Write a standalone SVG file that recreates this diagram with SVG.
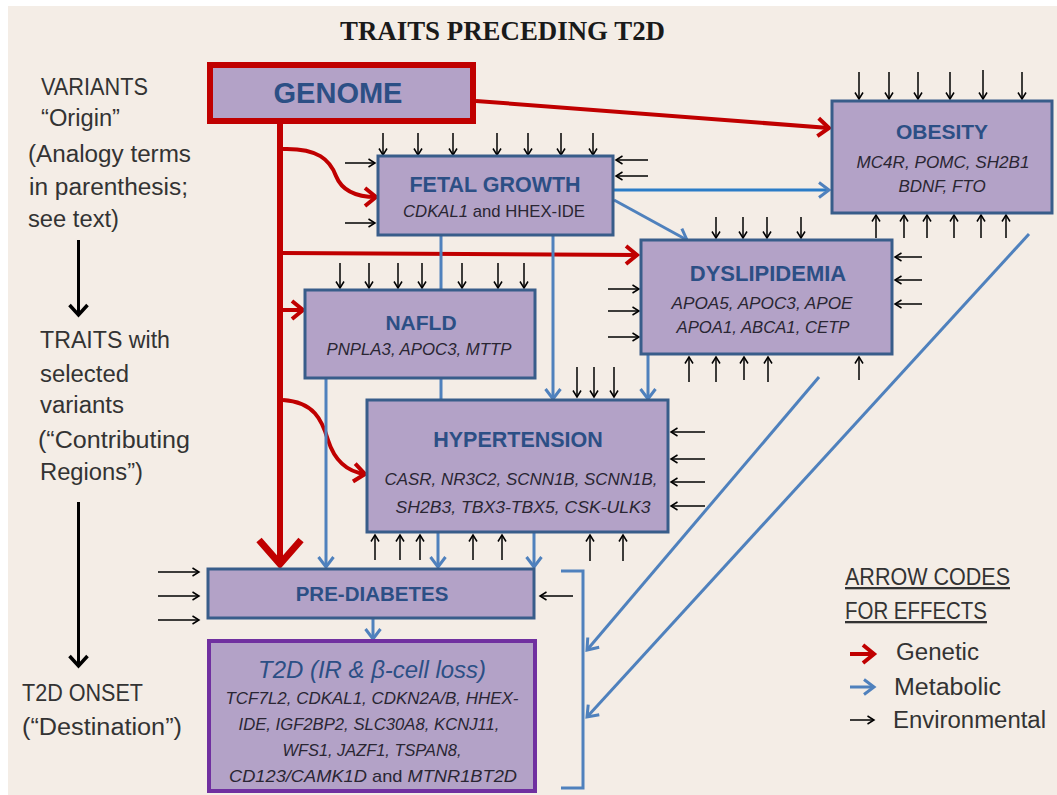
<svg xmlns="http://www.w3.org/2000/svg" width="1057" height="795" viewBox="0 0 1057 795">
<style>
.box{fill:#b3a2c7;stroke:#385d8a;stroke-width:3}
.ttl{font-family:'Liberation Sans',Arial,sans-serif;font-weight:bold;fill:#2c4f85;text-anchor:middle}
.gene{font-family:'Liberation Sans',Arial,sans-serif;font-style:italic;fill:#2a2633;text-anchor:middle;font-size:17px}
.up{font-style:normal}
.lbl{font-family:'Liberation Sans',Arial,sans-serif;fill:#333333;font-size:23px}
.env{stroke:#000;stroke-width:1.5;fill:none;marker-end:url(#mEnv)}
.red{stroke:#c00000;stroke-width:4;fill:none;marker-end:url(#mRed)}
.blue{stroke:#4f81bd;stroke-width:3;fill:none;marker-end:url(#mBlue)}
.bline{stroke:#4f81bd;stroke-width:3;fill:none}
.blk{stroke:#000;stroke-width:3;fill:none;marker-end:url(#mBlk)}
</style>
<defs>
<marker id="mEnv" markerUnits="userSpaceOnUse" markerWidth="10" markerHeight="10" refX="7" refY="4.5" orient="auto" overflow="visible"><path d="M0.5,0.5 L7,4.5 L0.5,8.5" fill="none" stroke="#000" stroke-width="1.5"/></marker>
<marker id="mRed" markerUnits="userSpaceOnUse" markerWidth="20" markerHeight="24" refX="13" refY="10" orient="auto" overflow="visible"><path d="M2,1 L13,10 L2,19" fill="none" stroke="#c00000" stroke-width="4"/></marker>
<marker id="mBlue" markerUnits="userSpaceOnUse" markerWidth="16" markerHeight="20" refX="11" refY="8" orient="auto" overflow="visible"><path d="M1,0.5 L11,8 L1,15.5" fill="none" stroke="#4f81bd" stroke-width="3"/></marker>
<marker id="mBlk" markerUnits="userSpaceOnUse" markerWidth="20" markerHeight="20" refX="10" refY="10" orient="auto" overflow="visible"><path d="M0,1 L10,10 L0,19" fill="none" stroke="#000" stroke-width="3.5"/></marker>
</defs>
<rect x="0" y="0" width="1057" height="795" fill="#ffffff"/>
<rect x="8" y="6" width="1049" height="789" fill="#f4ede6"/>

<text x="340" y="40" font-family="'Liberation Serif','Times New Roman',serif" font-weight="bold" font-size="27" fill="#1a1a1a" textLength="325" lengthAdjust="spacingAndGlyphs">TRAITS PRECEDING T2D</text>

<g id="left-labels">
<text class="lbl" x="41" y="95" textLength="107" lengthAdjust="spacingAndGlyphs">VARIANTS</text>
<text class="lbl" x="41" y="126" textLength="79" lengthAdjust="spacingAndGlyphs">“Origin”</text>
<text class="lbl" x="28" y="162" textLength="163" lengthAdjust="spacingAndGlyphs">(Analogy terms</text>
<text class="lbl" x="29" y="195" textLength="159" lengthAdjust="spacingAndGlyphs">in parenthesis;</text>
<text class="lbl" x="28" y="227" textLength="91" lengthAdjust="spacingAndGlyphs">see text)</text>
<text class="lbl" x="40" y="348" textLength="130" lengthAdjust="spacingAndGlyphs">TRAITS with</text>
<text class="lbl" x="40" y="382" textLength="89" lengthAdjust="spacingAndGlyphs">selected</text>
<text class="lbl" x="40" y="413" textLength="84" lengthAdjust="spacingAndGlyphs">variants</text>
<text class="lbl" x="38" y="448" textLength="152" lengthAdjust="spacingAndGlyphs">(“Contributing</text>
<text class="lbl" x="40" y="480" textLength="103" lengthAdjust="spacingAndGlyphs">Regions”)</text>
<text class="lbl" x="22" y="701" textLength="121" lengthAdjust="spacingAndGlyphs">T2D ONSET</text>
<text class="lbl" x="22" y="735" textLength="160" lengthAdjust="spacingAndGlyphs">(“Destination”)</text>
<line class="blk" x1="78.5" y1="240" x2="78.5" y2="315"/>
<line class="blk" x1="78.5" y1="502" x2="78.5" y2="666"/>
</g>

<g id="connectors">
<!-- genetic (red) -->
<line x1="280" y1="124" x2="280" y2="562" stroke="#c00000" stroke-width="6"/>
<path d="M259,540 L280,564 L301,540" fill="none" stroke="#c00000" stroke-width="7" stroke-linejoin="miter"/>
<line class="red" x1="476" y1="101" x2="829" y2="128"/>
<path class="red" d="M283,149 C318,148 330,160 336,176 C342,191 356,197 376,197"/>
<line class="red" x1="283" y1="253" x2="637" y2="255"/>
<line class="red" x1="283" y1="310" x2="303" y2="310"/>
<path class="red" d="M283,400 C314,402 322,420 328,440 C335,462 349,472 365,474"/>
<!-- metabolic (blue) -->
<line x1="613" y1="190" x2="829" y2="190" stroke="#2a7cc7" stroke-width="3" marker-end="url(#mBlue)"/>
<line class="blue" x1="614" y1="200" x2="687" y2="240"/>
<line class="bline" x1="441" y1="235" x2="441" y2="290"/>
<line class="bline" x1="441" y1="378" x2="441" y2="400"/>
<line class="blue" x1="553" y1="235" x2="553" y2="399"/>
<line class="blue" x1="648" y1="354" x2="648" y2="399"/>
<line class="blue" x1="326" y1="378" x2="326" y2="567"/>
<line class="blue" x1="438" y1="532" x2="438" y2="567"/>
<line class="blue" x1="534" y1="532" x2="534" y2="567"/>
<line class="blue" x1="373" y1="618" x2="373" y2="639"/>
<line class="blue" x1="819" y1="377" x2="587" y2="650"/>
<line class="blue" x1="1029" y1="234" x2="587" y2="717"/>
<polyline class="bline" points="561,571 583,571 583,788 561,788"/>
<!-- environmental (black) -->
<g id="environmental">
<line class="env" x1="383" y1="133" x2="383" y2="155"/>
<line class="env" x1="418" y1="133" x2="418" y2="155"/>
<line class="env" x1="453" y1="133" x2="453" y2="155"/>
<line class="env" x1="497" y1="133" x2="497" y2="155"/>
<line class="env" x1="528" y1="133" x2="528" y2="155"/>
<line class="env" x1="561" y1="133" x2="561" y2="155"/>
<line class="env" x1="593" y1="133" x2="593" y2="155"/>
<line class="env" x1="345" y1="163" x2="375" y2="163"/>
<line class="env" x1="345" y1="223" x2="375" y2="223"/>
<line class="env" x1="648" y1="160" x2="616" y2="160"/>
<line class="env" x1="648" y1="176" x2="616" y2="176"/>

<line class="env" x1="859" y1="72" x2="859" y2="99"/>
<line class="env" x1="889" y1="72" x2="889" y2="99"/>
<line class="env" x1="918" y1="72" x2="918" y2="99"/>
<line class="env" x1="950" y1="72" x2="950" y2="99"/>
<line class="env" x1="983" y1="70" x2="983" y2="99"/>
<line class="env" x1="1022" y1="72" x2="1022" y2="99"/>
<line class="env" x1="876" y1="238" x2="876" y2="215"/>
<line class="env" x1="904" y1="238" x2="904" y2="215"/>
<line class="env" x1="927" y1="238" x2="927" y2="215"/>
<line class="env" x1="954" y1="238" x2="954" y2="215"/>
<line class="env" x1="981" y1="238" x2="981" y2="215"/>
<line class="env" x1="1006" y1="238" x2="1006" y2="215"/>

<line class="env" x1="716" y1="217" x2="716" y2="238"/>
<line class="env" x1="743" y1="217" x2="743" y2="238"/>
<line class="env" x1="767" y1="217" x2="767" y2="238"/>
<line class="env" x1="801" y1="217" x2="801" y2="238"/>
<line class="env" x1="608" y1="289" x2="639" y2="289"/>
<line class="env" x1="608" y1="311" x2="639" y2="311"/>
<line class="env" x1="608" y1="337" x2="639" y2="337"/>
<line class="env" x1="922" y1="257" x2="895" y2="257"/>
<line class="env" x1="922" y1="280" x2="895" y2="280"/>
<line class="env" x1="922" y1="304" x2="895" y2="304"/>
<line class="env" x1="689" y1="382" x2="689" y2="357"/>
<line class="env" x1="716" y1="382" x2="716" y2="357"/>
<line class="env" x1="744" y1="380" x2="744" y2="357"/>
<line class="env" x1="768" y1="382" x2="768" y2="357"/>
<line class="env" x1="859" y1="380" x2="859" y2="357"/>

<line class="env" x1="340" y1="263" x2="340" y2="288"/>
<line class="env" x1="369" y1="263" x2="369" y2="288"/>
<line class="env" x1="398" y1="263" x2="398" y2="288"/>
<line class="env" x1="422" y1="263" x2="422" y2="288"/>
<line class="env" x1="462" y1="263" x2="462" y2="288"/>
<line class="env" x1="498" y1="263" x2="498" y2="288"/>
<line class="env" x1="524" y1="263" x2="524" y2="288"/>

<line class="env" x1="577" y1="367" x2="577" y2="397"/>
<line class="env" x1="594" y1="367" x2="594" y2="397"/>
<line class="env" x1="614" y1="367" x2="614" y2="397"/>
<line class="env" x1="705" y1="432" x2="671" y2="432"/>
<line class="env" x1="705" y1="459" x2="671" y2="459"/>
<line class="env" x1="705" y1="482" x2="671" y2="482"/>
<line class="env" x1="705" y1="506" x2="671" y2="506"/>
<line class="env" x1="375" y1="560" x2="375" y2="535"/>
<line class="env" x1="400" y1="560" x2="400" y2="535"/>
<line class="env" x1="420" y1="560" x2="420" y2="535"/>
<line class="env" x1="473" y1="560" x2="473" y2="535"/>
<line class="env" x1="502" y1="560" x2="502" y2="535"/>
<line class="env" x1="590" y1="561" x2="590" y2="535"/>
<line class="env" x1="623" y1="561" x2="623" y2="535"/>

<line class="env" x1="158" y1="572" x2="199" y2="572"/>
<line class="env" x1="158" y1="596" x2="199" y2="596"/>
<line class="env" x1="158" y1="620" x2="199" y2="620"/>
<line class="env" x1="573" y1="596" x2="540" y2="596"/>
</g>
</g>

<g id="genome">
<rect x="210" y="65" width="263" height="56" fill="#b3a2c7" stroke="#c00000" stroke-width="6"/>
<text class="ttl" x="338" y="103" font-size="29">GENOME</text>
</g>

<g id="fetal-growth">
<rect class="box" x="378" y="156" width="235" height="79"/>
<text class="ttl" x="495" y="192" font-size="21.5">FETAL GROWTH</text>
<text class="gene" x="494" y="217" textLength="182" lengthAdjust="spacingAndGlyphs">CDKAL1<tspan class="up"> and HHEX-IDE</tspan></text>
</g>

<g id="obesity">
<rect class="box" x="832" y="101" width="220" height="112"/>
<text class="ttl" x="942" y="139" font-size="21">OBESITY</text>
<text class="gene" x="943" y="168" textLength="173" lengthAdjust="spacingAndGlyphs">MC4R, POMC, SH2B1</text>
<text class="gene" x="942" y="192">BDNF, FTO</text>
</g>

<g id="dyslipidemia">
<rect class="box" x="641" y="240" width="251" height="114"/>
<text class="ttl" x="768" y="281" font-size="22">DYSLIPIDEMIA</text>
<text class="gene" x="762" y="309" textLength="181" lengthAdjust="spacingAndGlyphs">APOA5, APOC3, APOE</text>
<text class="gene" x="763" y="333" textLength="173" lengthAdjust="spacingAndGlyphs">APOA1, ABCA1, CETP</text>
</g>

<g id="nafld">
<rect class="box" x="305" y="290" width="230" height="88"/>
<text class="ttl" x="421" y="330" font-size="21">NAFLD</text>
<text class="gene" x="419" y="355" textLength="185" lengthAdjust="spacingAndGlyphs">PNPLA3, APOC3, MTTP</text>
</g>

<g id="hypertension">
<rect class="box" x="367" y="400" width="301" height="132"/>
<text class="ttl" x="518" y="447" font-size="21.5">HYPERTENSION</text>
<text class="gene" x="521" y="485" textLength="273" lengthAdjust="spacingAndGlyphs">CASR, NR3C2, SCNN1B, SCNN1B,</text>
<text class="gene" x="523" y="513" textLength="255" lengthAdjust="spacingAndGlyphs">SH2B3, TBX3-TBX5, CSK-ULK3</text>
</g>

<g id="pre-diabetes">
<rect class="box" x="208" y="569" width="326" height="49"/>
<text class="ttl" x="372" y="601" font-size="20.5">PRE-DIABETES</text>
</g>

<g id="t2d">
<rect x="209" y="641" width="326" height="150" fill="#b3a2c7" stroke="#7030a0" stroke-width="4"/>
<text x="372" y="678" font-family="'Liberation Sans',Arial,sans-serif" font-style="italic" font-size="24" fill="#2c4f85" text-anchor="middle" textLength="228" lengthAdjust="spacingAndGlyphs">T2D (IR &amp; β-cell loss)</text>
<text class="gene" x="372" y="704" textLength="293" lengthAdjust="spacingAndGlyphs">TCF7L2, CDKAL1, CDKN2A/B, HHEX-</text>
<text class="gene" x="369" y="730" textLength="261" lengthAdjust="spacingAndGlyphs">IDE, IGF2BP2, SLC30A8, KCNJ11,</text>
<text class="gene" x="372" y="756" textLength="179" lengthAdjust="spacingAndGlyphs">WFS1, JAZF1, TSPAN8,</text>
<text class="gene" x="373" y="782" textLength="288" lengthAdjust="spacingAndGlyphs">CD123/CAMK1D <tspan class="up">and</tspan> MTNR1BT2D</text>
</g>

<g id="legend">
<text class="lbl" x="845" y="585" text-decoration="underline" textLength="165" lengthAdjust="spacingAndGlyphs">ARROW CODES</text>
<text class="lbl" x="845" y="619" text-decoration="underline" textLength="142" lengthAdjust="spacingAndGlyphs">FOR EFFECTS</text>
<line class="red" x1="850" y1="654" x2="874" y2="654"/>
<line class="blue" x1="850" y1="687" x2="874" y2="687"/>
<line class="env" x1="850" y1="720" x2="874" y2="720"/>
<text class="lbl" x="896" y="660" textLength="83" lengthAdjust="spacingAndGlyphs">Genetic</text>
<text class="lbl" x="894" y="695" textLength="107" lengthAdjust="spacingAndGlyphs">Metabolic</text>
<text class="lbl" x="893" y="728" textLength="153" lengthAdjust="spacingAndGlyphs">Environmental</text>
</g>
</svg>
